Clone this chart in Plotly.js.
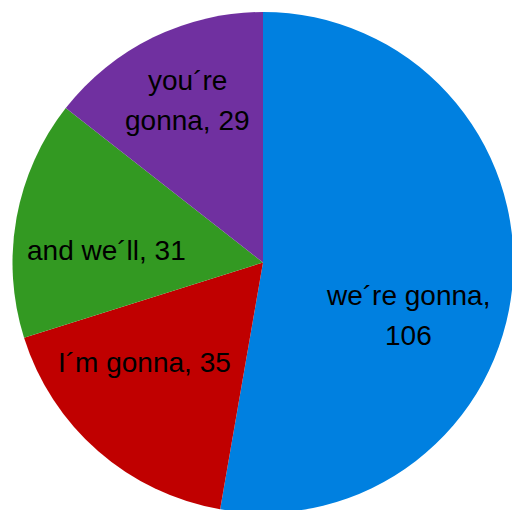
<!DOCTYPE html>
<html><head><meta charset="utf-8">
<script src="https://cdn.plot.ly/plotly-3.0.1.min.js"></script>
<style>html,body{margin:0;padding:0;overflow:hidden;background:#fff}</style>
</head><body><div id="chart"></div>
<script>
const labels = ["we´re gonna", "I´m gonna", "and we´ll", "you´re gonna"];
const values = [106, 35, 31, 29];
const labelLines = [["we´re gonna,", "106"], ["I´m gonna, 35"], ["and we´ll, 31"], ["you´re", "gonna, 29"]];
const colors = ["#0080e0", "#c00000", "#339922", "#7030a0"];

// label block centres in pixels (layout only)
const W = 514, H = 513, ML = 12, MT = 12, LINE = 40;
const labelPos = [[408, 315], [144, 362], [106, 250], [187, 100]];
const pw = W - ML, ph = H - MT;
const annotations = [];
labels.forEach((l, i) => {
  const lines = labelLines[i];
  lines.forEach((t, j) => {
    const py = labelPos[i][1] + (j - (lines.length - 1) / 2) * LINE;
    annotations.push({
      xref: "paper", yref: "paper",
      x: (labelPos[i][0] - ML) / pw,
      y: 1 - (py - MT) / ph,
      xanchor: "center", yanchor: "middle",
      text: t,
      showarrow: false,
      font: {family: "Liberation Sans, Arial, sans-serif", size: 28, color: "#000"}
    });
  });
});

Plotly.newPlot("chart", [{
  type: "pie",
  labels: labels,
  values: values,
  sort: false,
  direction: "clockwise",
  rotation: 0,
  textinfo: "none",
  marker: {colors: colors, line: {width: 0}},
  hoverinfo: "none"
}], {
  width: W, height: H,
  margin: {l: ML, r: 0, t: MT, b: 0},
  showlegend: false,
  paper_bgcolor: "#fff",
  annotations: annotations
}, {staticPlot: true});
</script></body></html>
